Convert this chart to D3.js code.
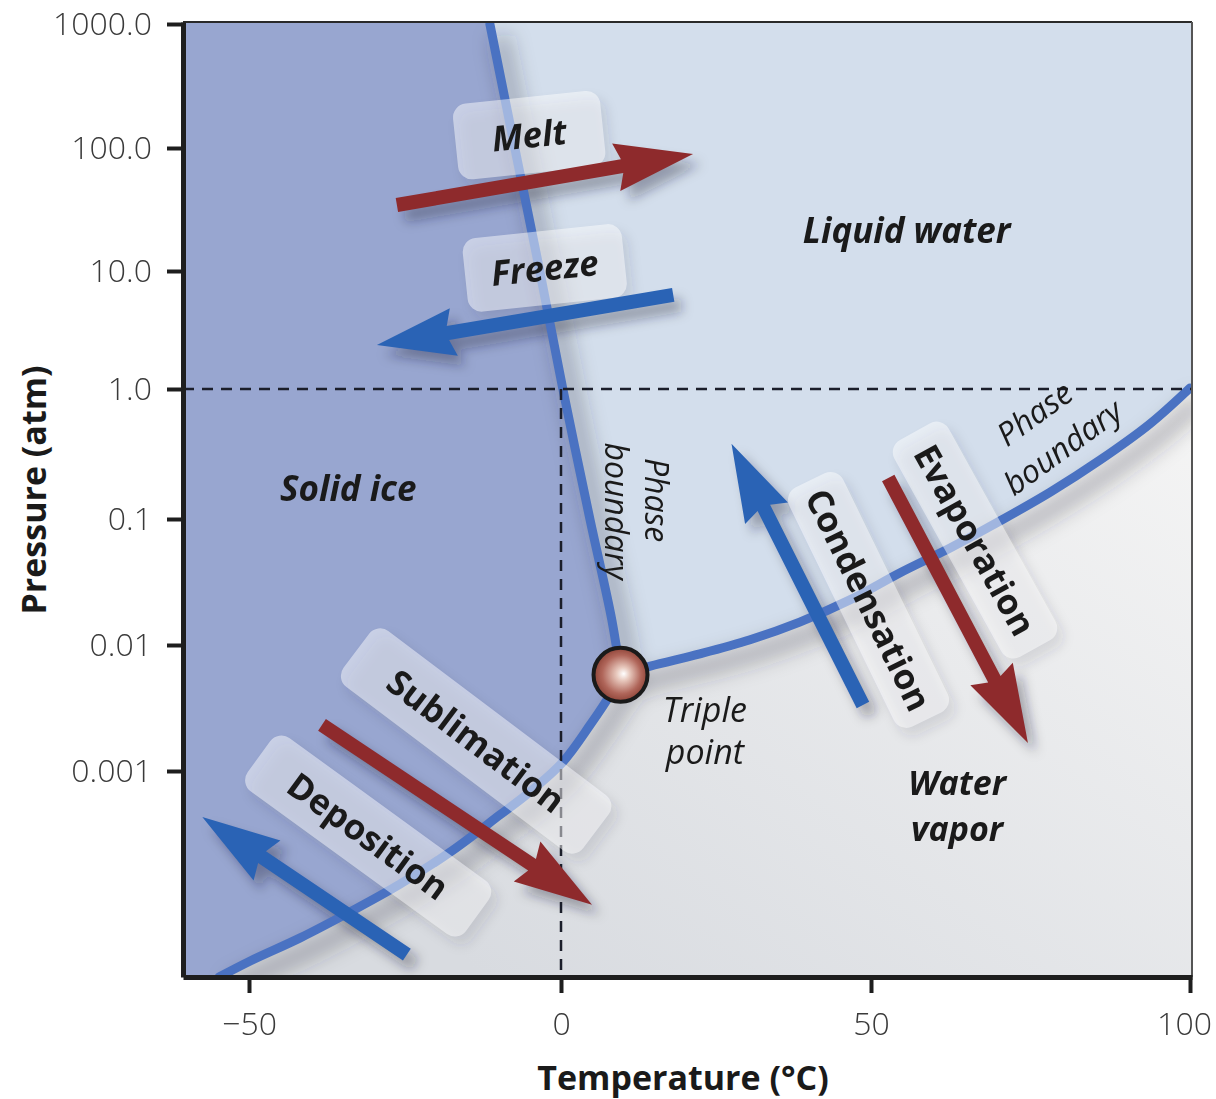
<!DOCTYPE html>
<html>
<head>
<meta charset="utf-8">
<script src="https://cdn.jsdelivr.net/npm/d3@7"></script>
<style>
  body { margin: 0; background: #ffffff; }
  svg { display: block; }
  text { font-family: 'Open Sans', 'Noto Sans', 'DejaVu Sans', sans-serif; }
</style>
</head>
<body>
<svg id="chart" width="1216" height="1099"></svg>
<script>
// ---------------- DATA ----------------
const xTickValues = [-50, 0, 50, 100];
const xTickLabels = ["\u221250", "0", "50", "100"];
const yTickValues = [1000, 100, 10, 1, 0.1, 0.01, 0.001];
const yTickLabels = ["1000.0", "100.0", "10.0", "1.0", "0.1", "0.01", "0.001"];

// triple point (°C, atm)
const tripleT = 9.6;
const tripleP = 0.0058;

// solid / liquid boundary (melting curve), from top down to the triple point
const meltT = [-11.4, -7.4, -3.4, 0.3, 4.7, 8.2, 9.6];
const meltP = [1000, 100, 10, 1, 0.098, 0.0158, 0.0058];

// liquid / vapour boundary, from the triple point to the right edge
const vapT = [9.6, 14.4, 22.4, 30.5, 38.5, 46.6, 54.5, 62.4, 70.2, 78.1, 85.9, 93.7, 100];
const vapP = [0.0058, 0.0068, 0.0085, 0.011, 0.0152, 0.0228, 0.0373, 0.0589, 0.0964, 0.161, 0.284, 0.538, 1.02];

// solid / vapour boundary, from the triple point down to the bottom
const subT = [9.6, 7.9, 4.7, 0.3, -5.0, -9.8, -17.8, -25.8, -33.8, -41.8, -49.8, -54.8];
const subP = [0.0058, 0.00401, 0.00232, 0.00118, 0.000678, 0.000443, 0.000222, 0.000123, 0.0000735, 0.0000454, 0.0000296, 0.000022];

// process arrows (tail -> tip), in °C and atm
const arrowNames = ["Melt", "Freeze", "Sublimation", "Deposition", "Condensation", "Evaporation"];
const arrowFromT = [-26.3, 18.1, -38.3, -24.7, 48.7, 52.7];
const arrowFromP = [34.4, 6.27, 0.00232, 0.0000333, 0.00334, 0.207];
const arrowToT = [21.3, -29.5, 5.0, -57.5, 27.5, 74.6];
const arrowToP = [89.4, 2.36, 0.000084, 0.000427, 0.38, 0.00167];
const arrowKind = ["heat", "cool", "heat", "cool", "cool", "heat"];

// process labels (box centres) in °C and atm
const boxLabels = ["Melt", "Freeze", "Sublimation", "Deposition", "Condensation", "Evaporation"];
const boxT = [-5.1, -2.6, -13.6, -30.9, 49.6, 66.3];
const boxP = [127, 10.6, 0.00173, 0.0003, 0.0228, 0.068];

// region labels
const regionLabels = ["Liquid water", "Solid ice"];
const regionT = [55.6, -34.1];
const regionP = [21.5, 0.173];

// ---------------- LAYOUT / STYLE ----------------
const boxLayout = {
  "Melt":         { w: 148, h: 76, angle: -6,  italic: true },
  "Freeze":       { w: 160, h: 74, angle: -6,  italic: true },
  "Sublimation":  { w: 300, h: 70, angle: 37,  italic: false },
  "Deposition":   { w: 270, h: 66, angle: 36,  italic: false },
  "Condensation": { w: 266, h: 60, angle: 64,  italic: false },
  "Evaporation":  { w: 248, h: 62, angle: 61,  italic: false }
};
const colors = {
  solid: "#98a6d0", liquid: "#d3deec",
  curve: "#4a72c2", heat: "#8e2a2c", cool: "#2a63b5",
  ink: "#1a1a1a", axis: "#1e1e1e"
};

// ---------------- SCALES ----------------
const x = d3.scaleLinear()
  .domain([-60.6, -50, 0, 50, 100, 100.3])
  .range([183, 249, 561, 871, 1190, 1192]);
const y = d3.scaleLog()
  .domain([2.2e-5, 0.001, 0.01, 0.1, 1, 10, 100, 1000, 1038])
  .range([977, 771, 645, 519, 389, 271, 148, 24, 22]);

const xL = x(-60.6), xR = x(100.3), yT = y(1038), yB = y(2.2e-5);

const svg = d3.select("#chart");
const defs = svg.append("defs");

defs.append("clipPath").attr("id", "plotClip")
  .append("rect").attr("x", xL).attr("y", yT).attr("width", xR - xL).attr("height", yB - yT);

defs.append("filter").attr("id", "blurBig").attr("x", "-30%").attr("y", "-30%").attr("width", "160%").attr("height", "160%")
  .append("feGaussianBlur").attr("stdDeviation", 10);
defs.append("filter").attr("id", "blurSmall").attr("x", "-30%").attr("y", "-30%").attr("width", "160%").attr("height", "160%")
  .append("feGaussianBlur").attr("stdDeviation", 6);

const vg = defs.append("linearGradient").attr("id", "vapGrad")
  .attr("x1", 0.85).attr("y1", 0.3).attr("x2", 0.3).attr("y2", 1.0);
vg.append("stop").attr("offset", 0).attr("stop-color", "#f4f4f4");
vg.append("stop").attr("offset", 1).attr("stop-color", "#d8dbe0");

const rg = defs.append("radialGradient").attr("id", "tpGrad")
  .attr("cx", "50%").attr("cy", "50%").attr("r", "55%").attr("fx", "56%").attr("fy", "48%");
rg.append("stop").attr("offset", 0).attr("stop-color", "#ffffff");
rg.append("stop").attr("offset", 0.22).attr("stop-color", "#e8c9be");
rg.append("stop").attr("offset", 0.65).attr("stop-color", "#b0665a");
rg.append("stop").attr("offset", 1).attr("stop-color", "#83382c");

// ---------------- REGIONS ----------------
const lineGen = d3.line().curve(d3.curveCatmullRom.alpha(0.5));
const meltPts = meltT.map((t, i) => [x(t), y(meltP[i])]);
const vapPts = vapT.map((t, i) => [x(t), y(vapP[i])]);
const subPts = subT.map((t, i) => [x(t), y(subP[i])]);
const seg = pts => "L" + lineGen(pts).slice(1);

const plot = svg.append("g").attr("clip-path", "url(#plotClip)");

plot.append("rect").attr("x", xL).attr("y", yT).attr("width", xR - xL).attr("height", yB - yT)
  .attr("fill", "url(#vapGrad)");

const solidPath = "M" + [xL, yT] + "L" + [meltPts[0][0], yT] + seg(meltPts) + seg(subPts)
  + "L" + [subPts[subPts.length - 1][0], yB] + "L" + [xL, yB] + "Z";
const liquidPath = "M" + [meltPts[0][0], yT] + "L" + [xR, yT] + "L" + [xR, vapPts[vapPts.length - 1][1]]
  + seg(vapPts.slice().reverse()) + seg(meltPts.slice().reverse()) + "Z";

plot.append("path").attr("d", liquidPath).attr("fill", colors.liquid);
plot.append("path").attr("d", solidPath).attr("fill", colors.solid);

// ---------------- SHADOWS ----------------
const curves = [meltPts, vapPts, subPts];
const shadowG = plot.append("g").attr("transform", "translate(10,12)").attr("filter", "url(#blurBig)");
shadowG.selectAll("path").data(curves).join("path")
  .attr("d", d => lineGen(d)).attr("fill", "none")
  .attr("stroke", "#2a2e3a").attr("stroke-opacity", 0.3).attr("stroke-width", 18);

function arrowPath(x1, y1, x2, y2, shaftW, headL, headW) {
  const dx = x2 - x1, dy = y2 - y1, L = Math.hypot(dx, dy);
  const ux = dx / L, uy = dy / L, nx = -uy, ny = ux;
  const bx = x2 - ux * headL, by = y2 - uy * headL;
  const bx2 = bx - ux * 6, by2 = by - uy * 6;
  const pts = [
    [x1 + nx * shaftW / 2, y1 + ny * shaftW / 2],
    [bx + nx * shaftW / 2, by + ny * shaftW / 2],
    [bx2 + nx * headW, by2 + ny * headW],
    [x2, y2],
    [bx2 - nx * headW, by2 - ny * headW],
    [bx - nx * shaftW / 2, by - ny * shaftW / 2],
    [x1 - nx * shaftW / 2, y1 - ny * shaftW / 2]
  ];
  return "M" + pts.join("L") + "Z";
}
const arrows = arrowNames.map((n, i) => ({
  name: n, kind: arrowKind[i],
  d: arrowPath(x(arrowFromT[i]), y(arrowFromP[i]), x(arrowToT[i]), y(arrowToP[i]), 14, 72, 24)
}));
const boxes = boxLabels.map((n, i) => ({ name: n, cx: x(boxT[i]), cy: y(boxP[i]), ...boxLayout[n] }));

const arrowShadow = plot.append("g").attr("transform", "translate(8,10)").attr("filter", "url(#blurSmall)");
arrowShadow.selectAll("path").data(arrows).join("path")
  .attr("d", d => d.d).attr("fill", "#1e2230").attr("fill-opacity", 0.35);

const boxShadow = plot.append("g").attr("transform", "translate(6,8)").attr("filter", "url(#blurSmall)");
boxShadow.selectAll("rect").data(boxes).join("rect")
  .attr("transform", d => `translate(${d.cx},${d.cy}) rotate(${d.angle})`)
  .attr("x", d => -d.w / 2).attr("y", d => -d.h / 2).attr("width", d => d.w).attr("height", d => d.h)
  .attr("rx", 14).attr("fill", "#303440").attr("fill-opacity", 0.12);

// ---------------- CURVES & REFERENCE LINES ----------------
plot.append("g").selectAll("path").data(curves).join("path")
  .attr("d", d => lineGen(d)).attr("fill", "none")
  .attr("stroke", colors.curve).attr("stroke-width", 9).attr("stroke-linecap", "round");

const dash = plot.append("g").attr("stroke", "#1b1e2a").attr("stroke-width", 2.5).attr("stroke-dasharray", "11 8");
dash.append("line").attr("x1", xL).attr("x2", xR).attr("y1", y(1)).attr("y2", y(1));
dash.append("line").attr("x1", x(0)).attr("x2", x(0)).attr("y1", y(1)).attr("y2", yB);

// ---------------- LABEL BOXES ----------------
const boxG = plot.append("g").selectAll("g").data(boxes).join("g")
  .attr("transform", d => `translate(${d.cx},${d.cy}) rotate(${d.angle})`);
boxG.append("rect")
  .attr("x", d => -d.w / 2).attr("y", d => -d.h / 2).attr("width", d => d.w).attr("height", d => d.h)
  .attr("rx", 14).attr("fill", "#ffffff").attr("fill-opacity", 0.48);

// ---------------- ARROWS ----------------
plot.append("g").selectAll("path").data(arrows).join("path")
  .attr("d", d => d.d).attr("fill", d => colors[d.kind]);

boxG.append("text")
  .attr("text-anchor", "middle").attr("dy", "0.36em")
  .attr("font-size", 35).attr("font-weight", 700)
  .attr("font-style", d => d.italic ? "italic" : "normal")
  .attr("fill", colors.ink)
  .text(d => d.name);

// ---------------- TRIPLE POINT ----------------
plot.append("circle").attr("cx", x(tripleT)).attr("cy", y(tripleP)).attr("r", 27)
  .attr("fill", "url(#tpGrad)").attr("stroke", "#1a1a1a").attr("stroke-width", 4);

// ---------------- ANNOTATIONS ----------------
const ann = svg.append("g").attr("fill", colors.ink);
ann.selectAll("text.region").data(regionLabels).join("text").attr("class", "region")
  .attr("x", (d, i) => x(regionT[i])).attr("y", (d, i) => y(regionP[i])).attr("dy", "0.36em")
  .attr("text-anchor", "middle").attr("font-size", 35).attr("font-weight", 700).attr("font-style", "italic")
  .text(d => d);

function multiLine(g, lines, ys, xs, attrs) {
  lines.forEach((s, i) => {
    const t = g.append("text").attr("x", xs[i]).attr("y", ys[i]).attr("text-anchor", "middle").text(s);
    Object.entries(attrs).forEach(([k, v]) => t.attr(k, v));
  });
}

const wv = ann.append("g").attr("transform", `translate(${x(63.5)},${y(0.00051)})`);
multiLine(wv, ["Water", "vapor"], [-12, 34], [0, 0],
  { "font-size": 34, "font-weight": 700, "font-style": "italic" });

const tp = ann.append("g").attr("transform", `translate(${x(23.2)},${y(0.00211)})`);
multiLine(tp, ["Triple", "point"], [-8, 34], [0, 0], { "font-size": 34, "font-style": "italic" });

const pb1 = ann.append("g").attr("transform", `translate(${x(11.8)},${y(0.128)}) rotate(90)`);
multiLine(pb1, ["Phase", "boundary"], [-11, 29], [-5, 6], { "font-size": 32, "font-style": "italic" });

const pb2 = ann.append("g").attr("transform", `translate(${x(76.5)},${y(0.62)}) rotate(-36)`);
multiLine(pb2, ["Phase", "boundary"], [6, 50], [-3, 0], { "font-size": 32, "font-style": "italic" });

// ---------------- FRAME & AXES ----------------
svg.append("line").attr("x1", xL).attr("x2", xR).attr("y1", yT).attr("y2", yT)
  .attr("stroke", "#2a2a2a").attr("stroke-width", 2);
svg.append("line").attr("x1", xR).attr("x2", xR).attr("y1", yT).attr("y2", yB)
  .attr("stroke", "#555555").attr("stroke-width", 2);

const yAxis = svg.append("g").attr("transform", `translate(${xL},0)`)
  .call(d3.axisLeft(y).tickValues(yTickValues).tickFormat((d, i) => yTickLabels[i])
    .tickSize(16).tickSizeOuter(0).tickPadding(15));
const xAxis = svg.append("g").attr("transform", `translate(0,${yB})`)
  .call(d3.axisBottom(x).tickValues(xTickValues).tickFormat((d, i) => xTickLabels[i])
    .tickSize(16).tickSizeOuter(0).tickPadding(19));

[yAxis, xAxis].forEach(g => {
  g.select(".domain").attr("stroke", colors.axis).attr("stroke-width", 5);
  g.selectAll(".tick line").attr("stroke", colors.axis).attr("stroke-width", 4);
  g.selectAll(".tick text").attr("fill", "#3a3a3a").attr("font-size", 32).attr("font-weight", 300)
    .attr("font-family", "'Open Sans', 'Noto Sans', sans-serif");
});
yAxis.selectAll(".tick text").attr("dy", "0.34em");
xAxis.selectAll(".tick text").filter(d => d === 100).attr("dx", -6);

svg.append("text").attr("x", 683).attr("y", 1090).attr("text-anchor", "middle")
  .attr("font-size", 34).attr("font-weight", 700).attr("fill", colors.ink)
  .text("Temperature (\u00B0C)");
svg.append("text").attr("transform", "translate(46,490) rotate(-90)").attr("text-anchor", "middle")
  .attr("font-size", 34).attr("font-weight", 700).attr("fill", colors.ink)
  .text("Pressure (atm)");
</script>
</body>
</html>
